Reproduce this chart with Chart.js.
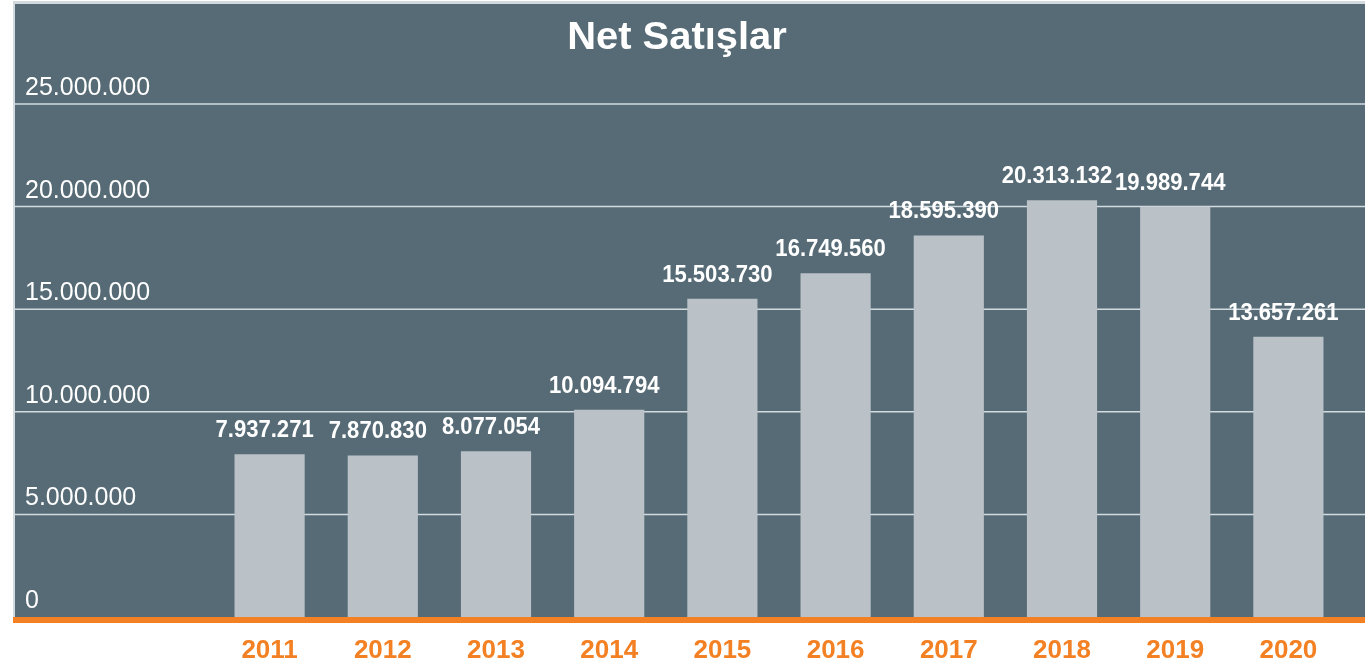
<!DOCTYPE html>
<html>
<head>
<meta charset="utf-8">
<title>Net Satışlar</title>
<script src="https://cdn.jsdelivr.net/npm/chart.js@4.4.1/dist/chart.umd.min.js"></script>
<style>
  html, body { margin: 0; padding: 0; background: #fff; }
  #wrap { width: 1365px; height: 668px; }
</style>
</head>
<body>
<div id="wrap"><canvas id="sales" width="1365" height="668"></canvas></div>
<script>
(function () {
    "use strict";

    // chart data
    var years = ['2011', '2012', '2013', '2014', '2015', '2016', '2017', '2018', '2019', '2020'];
    var netSales = [7937271, 7870830, 8077054, 10094794, 15503730, 16749560, 18595390, 20313132, 19989744, 13657261];
    var yTicks = [0, 5000000, 10000000, 15000000, 20000000, 25000000];
    var chartTitle = 'Net Satışlar';

    var slate = '#566b76';
    var barGray = '#bac1c7';
    var orange = '#f38124';

    // 7937271 -> "7.937.271"
    var fmt = function (v) {
        return String(v).replace(/\B(?=(\d{3})+(?!\d))/g, '.');
    };

    // Background panel, grid lines, y labels and title
    var panel = {
        id: 'panel',
        beforeDraw: function (chart) {
            var ctx = chart.ctx;
            var y = chart.scales.y;
            ctx.save();
            ctx.fillStyle = '#ffffff';
            ctx.fillRect(0, 0, chart.width, chart.height);
            ctx.fillStyle = '#d3dade';
            ctx.fillRect(13, 1, chart.width - 13, 3);
            ctx.fillRect(13, 1, 2, 617);
            ctx.fillStyle = slate;
            ctx.fillRect(15, 4, chart.width - 15, 613);

            ctx.strokeStyle = 'rgba(225,232,236,0.9)';
            ctx.lineWidth = 1.5;
            ctx.fillStyle = '#ffffff';
            ctx.font = '25px "Liberation Sans", Arial, sans-serif';
            ctx.textAlign = 'left';
            ctx.textBaseline = 'alphabetic';
            y.ticks.forEach(function (t) {
                var py = y.getPixelForValue(t.value);
                if (t.value > 0) {
                    ctx.beginPath();
                    ctx.moveTo(15, py);
                    ctx.lineTo(chart.width, py);
                    ctx.stroke();
                }
                ctx.fillText(fmt(t.value), 25, py - 9);
            });

            // title
            ctx.font = 'bold 38px "Liberation Sans", Arial, sans-serif';
            ctx.textAlign = 'center';
            ctx.translate(677, 49);
            ctx.scale(1.05, 1);
            ctx.fillText(chartTitle, 0, 0);
            ctx.restore();
        },
        afterDatasetsDraw: function (chart) {
            var ctx = chart.ctx;
            var meta = chart.getDatasetMeta(0);
            ctx.save();
            ctx.fillStyle = orange;
            ctx.fillRect(13, 617, chart.width - 13, 6);

            ctx.fillStyle = '#ffffff';
            ctx.font = 'bold 24px "Liberation Sans", Arial, sans-serif';
            ctx.textAlign = 'center';
            ctx.textBaseline = 'alphabetic';
            meta.data.forEach(function (bar, i) {
                ctx.save();
                ctx.translate(bar.x - 5, bar.y - 17);
                ctx.scale(0.92, 1);
                ctx.fillText(fmt(netSales[i]), 0, 0);
                ctx.restore();
            });
            ctx.restore();
        }
    };

    var ctx = document.getElementById('sales').getContext('2d');
    var salesChart = new Chart(ctx, {
        type: 'bar',
        data: {
            labels: years,
            datasets: [{
                label: chartTitle,
                data: netSales,
                backgroundColor: barGray,
                borderWidth: 0,
                barPercentage: 0.62,
                categoryPercentage: 1
            }]
        },
        options: {
            responsive: false,
            animation: false,
            devicePixelRatio: 1,
            layout: { padding: { left: 213, right: 20, top: 104, bottom: 0 } },
            plugins: {
                legend: { display: false },
                title: { display: false },
                tooltip: { enabled: false }
            },
            scales: {
                x: {
                    grid: { display: false },
                    border: { display: false },
                    ticks: {
                        color: orange,
                        padding: 10,
                        font: { family: '"Liberation Sans", Arial, sans-serif', size: 26, weight: 'bold' }
                    },
                    afterFit: function (scale) { scale.height = 51; }
                },
                y: {
                    display: false,
                    min: 0,
                    max: 25000000,
                    afterBuildTicks: function (scale) {
                        scale.ticks = yTicks.map(function (v) { return { value: v }; });
                    }
                }
            }
        },
        plugins: [panel]
    });
})();
</script>
</body>
</html>
